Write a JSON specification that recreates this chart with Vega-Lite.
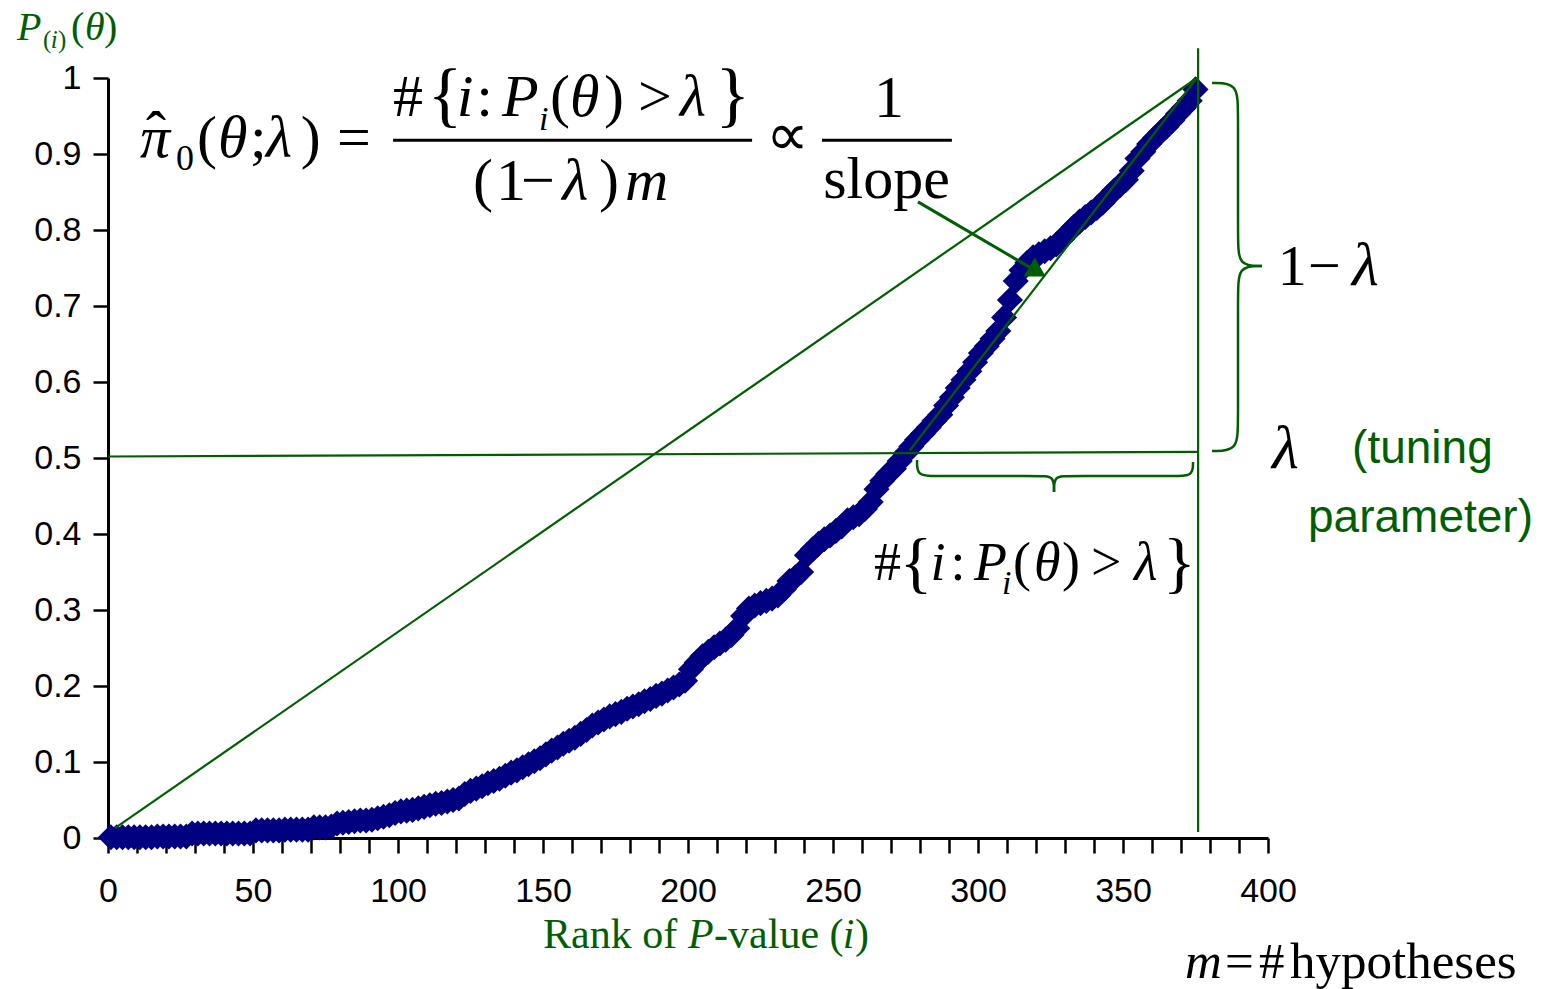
{
"$schema": "https://vega.github.io/schema/vega-lite/v6.json",
"width": 1160, "height": 760,
"autosize": {"type": "none"},
"padding": {"left": 108, "top": 78, "right": 282, "bottom": 151},
"background": "white",
"config": {"view": {"stroke": null}},
"datasets": {
"pv": [
{"x":1,"y":0.001},{"x":3,"y":0.001},{"x":5,"y":0.001},{"x":7,"y":0.001},{"x":9,"y":0.001},{"x":11,"y":0.001},{"x":13,"y":0.001},{"x":15,"y":0.001},{"x":17,"y":0.002},{"x":19,"y":0.002},
{"x":21,"y":0.002},{"x":23,"y":0.002},{"x":25,"y":0.002},{"x":27,"y":0.002},{"x":29,"y":0.006},{"x":31,"y":0.006},{"x":33,"y":0.006},{"x":35,"y":0.006},{"x":37,"y":0.006},{"x":39,"y":0.006},
{"x":41,"y":0.006},{"x":43,"y":0.006},{"x":45,"y":0.006},{"x":47,"y":0.006},{"x":49,"y":0.006},{"x":51,"y":0.010},{"x":53,"y":0.010},{"x":55,"y":0.010},{"x":57,"y":0.010},{"x":59,"y":0.010},
{"x":61,"y":0.011},{"x":63,"y":0.011},{"x":65,"y":0.011},{"x":67,"y":0.011},{"x":69,"y":0.011},{"x":71,"y":0.014},{"x":73,"y":0.014},{"x":75,"y":0.014},{"x":77,"y":0.015},{"x":79,"y":0.019},
{"x":81,"y":0.020},{"x":83,"y":0.021},{"x":85,"y":0.022},{"x":87,"y":0.023},{"x":89,"y":0.023},{"x":91,"y":0.024},{"x":93,"y":0.026},{"x":95,"y":0.028},{"x":97,"y":0.030},{"x":99,"y":0.033},
{"x":101,"y":0.035},{"x":103,"y":0.036},{"x":105,"y":0.037},{"x":107,"y":0.039},{"x":109,"y":0.041},{"x":111,"y":0.043},{"x":113,"y":0.045},{"x":115,"y":0.046},{"x":117,"y":0.048},{"x":119,"y":0.050},
{"x":121,"y":0.052},{"x":123,"y":0.058},{"x":125,"y":0.062},{"x":127,"y":0.065},{"x":129,"y":0.068},{"x":131,"y":0.072},{"x":133,"y":0.075},{"x":135,"y":0.078},{"x":137,"y":0.082},{"x":139,"y":0.086},
{"x":141,"y":0.089},{"x":143,"y":0.093},{"x":145,"y":0.097},{"x":147,"y":0.101},{"x":149,"y":0.105},{"x":151,"y":0.110},{"x":153,"y":0.115},{"x":155,"y":0.119},{"x":157,"y":0.124},{"x":159,"y":0.128},
{"x":161,"y":0.132},{"x":163,"y":0.137},{"x":165,"y":0.142},{"x":167,"y":0.148},{"x":169,"y":0.152},{"x":171,"y":0.156},{"x":173,"y":0.160},{"x":175,"y":0.163},{"x":177,"y":0.166},{"x":179,"y":0.170},
{"x":181,"y":0.173},{"x":183,"y":0.176},{"x":185,"y":0.180},{"x":187,"y":0.183},{"x":189,"y":0.187},{"x":191,"y":0.190},{"x":193,"y":0.194},{"x":195,"y":0.198},{"x":197,"y":0.202},{"x":199,"y":0.207},
{"x":201,"y":0.222},{"x":203,"y":0.231},{"x":205,"y":0.239},{"x":207,"y":0.245},{"x":209,"y":0.251},{"x":211,"y":0.256},{"x":213,"y":0.261},{"x":215,"y":0.267},{"x":217,"y":0.276},{"x":219,"y":0.292},
{"x":221,"y":0.302},{"x":223,"y":0.306},{"x":225,"y":0.309},{"x":227,"y":0.312},{"x":229,"y":0.315},{"x":231,"y":0.319},{"x":233,"y":0.327},{"x":235,"y":0.338},{"x":237,"y":0.343},{"x":239,"y":0.350},
{"x":241,"y":0.372},{"x":243,"y":0.380},{"x":245,"y":0.387},{"x":247,"y":0.393},{"x":249,"y":0.398},{"x":251,"y":0.404},{"x":253,"y":0.410},{"x":255,"y":0.418},{"x":257,"y":0.422},{"x":259,"y":0.426},
{"x":261,"y":0.433},{"x":263,"y":0.442},{"x":265,"y":0.459},{"x":267,"y":0.470},{"x":269,"y":0.479},{"x":271,"y":0.486},{"x":273,"y":0.496},{"x":275,"y":0.506},{"x":277,"y":0.515},{"x":279,"y":0.524},
{"x":281,"y":0.532},{"x":283,"y":0.540},{"x":285,"y":0.549},{"x":287,"y":0.557},{"x":289,"y":0.569},{"x":291,"y":0.580},{"x":293,"y":0.592},{"x":295,"y":0.603},{"x":297,"y":0.614},{"x":299,"y":0.626},
{"x":301,"y":0.638},{"x":303,"y":0.647},{"x":305,"y":0.657},{"x":307,"y":0.667},{"x":309,"y":0.685},{"x":311,"y":0.708},{"x":313,"y":0.733},{"x":315,"y":0.747},{"x":317,"y":0.757},{"x":319,"y":0.764},
{"x":321,"y":0.768},{"x":323,"y":0.772},{"x":325,"y":0.776},{"x":327,"y":0.781},{"x":329,"y":0.788},{"x":331,"y":0.796},{"x":333,"y":0.804},{"x":335,"y":0.811},{"x":337,"y":0.817},{"x":339,"y":0.823},
{"x":341,"y":0.829},{"x":343,"y":0.836},{"x":345,"y":0.844},{"x":347,"y":0.852},{"x":349,"y":0.859},{"x":351,"y":0.866},{"x":353,"y":0.878},{"x":355,"y":0.894},{"x":357,"y":0.903},{"x":359,"y":0.913},
{"x":361,"y":0.921},{"x":363,"y":0.929},{"x":365,"y":0.936},{"x":367,"y":0.944},{"x":369,"y":0.953},{"x":371,"y":0.961},{"x":373,"y":0.970},{"x":375,"y":0.985}
],
"lines": [
{"id":"diag","o":0,"x":2.4,"y":0.013},{"id":"diag","o":1,"x":375.5,"y":1.0},
{"id":"slope","o":0,"x":276.5,"y":0.51},{"id":"slope","o":1,"x":375.5,"y":1.0},
{"id":"vert","o":0,"x":375.9,"y":0.008},{"id":"vert","o":1,"x":375.9,"y":1.039},
{"id":"lam","o":0,"x":0,"y":0.502},{"id":"lam","o":1,"x":375.9,"y":0.508}
],
"arrow": [
{"id":"a","o":0,"x":279.3,"y":0.837},{"id":"a","o":1,"x":320.5,"y":0.745}
],
"arrowhead": [{"x":320.5,"y":0.745}],
"braces": [
{"id":"r1","o":0,"x":380.69,"y":0.9934},{"id":"r1","o":1,"x":389.66,"y":0.9934},{"id":"r1","o":2,"x":389.66,"y":0.9553},{"id":"r1","o":3,"x":389.66,"y":0.7895},{"id":"r1","o":4,"x":389.66,"y":0.7526},{"id":"r1","o":5,"x":397.93,"y":0.7526},
{"id":"r2","o":0,"x":397.93,"y":0.7526},{"id":"r2","o":1,"x":389.66,"y":0.7526},{"id":"r2","o":2,"x":389.66,"y":0.7158},{"id":"r2","o":3,"x":389.66,"y":0.5474},{"id":"r2","o":4,"x":389.66,"y":0.5092},{"id":"r2","o":5,"x":380.69,"y":0.5092},
{"id":"b1","o":0,"x":278.97,"y":0.4974},{"id":"b1","o":1,"x":278.97,"y":0.4763},{"id":"b1","o":2,"x":285.17,"y":0.4763},{"id":"b1","o":3,"x":321.38,"y":0.4763},{"id":"b1","o":4,"x":326.21,"y":0.4763},{"id":"b1","o":5,"x":326.21,"y":0.4553},
{"id":"b2","o":0,"x":326.21,"y":0.4553},{"id":"b2","o":1,"x":326.21,"y":0.4763},{"id":"b2","o":2,"x":331.03,"y":0.4763},{"id":"b2","o":3,"x":367.93,"y":0.4763},{"id":"b2","o":4,"x":374.14,"y":0.4763},{"id":"b2","o":5,"x":374.14,"y":0.4947}
],
"bars": [{"x":98.3,"x2":222.1,"y":0.918},{"x":246.2,"x2":291.0,"y":0.918}],
"up60": [
{"x":13.1,"y":0.9026,"t":"ˆ"},
{"x":30.69,"y":0.896,"t":"("},{"x":48.97,"y":0.896,"t":";"},{"x":66.5,"y":0.896,"t":")"},{"x":78.97,"y":0.896,"t":"="},
{"x":98.3,"y":0.95,"t":"#"},{"x":127.0,"y":0.95,"t":":"},{"x":152.4,"y":0.95,"t":"("},{"x":171.0,"y":0.95,"t":")"},{"x":182.8,"y":0.95,"t":">"},
{"x":125.9,"y":0.8395,"t":"("},{"x":133.8,"y":0.8395,"t":"1"},{"x":142.4,"y":0.8395,"t":"−"},{"x":169.3,"y":0.8395,"t":")"},
{"x":226.9,"y":0.8987,"t":"∝"},{"x":264.1,"y":0.9487,"t":"1"},{"x":246.6,"y":0.8421,"t":"slope"}
],
"it60": [
{"x":11.03,"y":0.896,"t":"π"},{"x":37.93,"y":0.896,"t":"θ"},{"x":54.48,"y":0.896,"t":"λ"},
{"x":120.3,"y":0.95,"t":"i"},{"x":135.9,"y":0.95,"t":"P"},{"x":159.3,"y":0.95,"t":"θ"},{"x":197.2,"y":0.95,"t":"λ"},
{"x":156.6,"y":0.8395,"t":"λ"},{"x":178.3,"y":0.8395,"t":"m"}
],
"up36": [{"x":23.45,"y":0.879,"t":"0"}],
"it34": [{"x":148.6,"y":0.9316,"t":"i"},{"x":308.3,"y":0.3211,"t":"i"}],
"br72": [{"x":110.3,"y":0.9474,"t":"{"},{"x":209.5,"y":0.9474,"t":"}"}],
"up54": [
{"x":264.1,"y":0.3395,"t":"#"},{"x":290.5,"y":0.3395,"t":":"},{"x":312.1,"y":0.3395,"t":"("},{"x":329.0,"y":0.3395,"t":")"},{"x":339.0,"y":0.3395,"t":">"}
],
"it54": [
{"x":283.6,"y":0.3395,"t":"i"},{"x":298.6,"y":0.3395,"t":"P"},{"x":319.3,"y":0.3395,"t":"θ"},{"x":353.8,"y":0.3395,"t":"λ"}
],
"br68": [{"x":273.0,"y":0.3329,"t":"{"},{"x":363.8,"y":0.3329,"t":"}"}],
"up58": [{"x":403.4,"y":0.7276,"t":"1"},{"x":413.8,"y":0.7276,"t":"−"}],
"it60b": [{"x":429.0,"y":0.7276,"t":"λ"},{"x":401.4,"y":0.4868,"t":"λ"}],
"gsans": [{"x":429.0,"y":0.4934,"t":"(tuning"},{"x":413.8,"y":0.4026,"t":"parameter)"}],
"gup42": [{"x":150.0,"y":-0.1447,"t":"Rank of "},{"x":209.0,"y":-0.1447,"t":"-value ("},{"x":257.6,"y":-0.1447,"t":")"}],
"git42": [{"x":200.0,"y":-0.1447,"t":"P"},{"x":253.4,"y":-0.1447,"t":"i"}],
"up51": [{"x":385.2,"y":-0.1842,"t":"="},{"x":396.9,"y":-0.1842,"t":"#"},{"x":407.6,"y":-0.1842,"t":"hypotheses"}],
"it51": [{"x":371.4,"y":-0.1842,"t":"m"}],
"gup40": [{"x":-12.76,"y":1.05,"t":"("},{"x":-1.38,"y":1.05,"t":")"}],
"git40": [{"x":-31.4,"y":1.05,"t":"P"},{"x":-7.93,"y":1.05,"t":"θ"}],
"gup25": [{"x":-22.4,"y":1.04,"t":"("},{"x":-17.2,"y":1.04,"t":")"}],
"git25": [{"x":-19.7,"y":1.04,"t":"i"}]
},
"encoding": {
"x": {"field": "x", "type": "quantitative", "scale": {"domain": [0, 400], "nice": false, "zero": false},
 "axis": {"title": null, "values": [0,10,20,30,40,50,60,70,80,90,100,110,120,130,140,150,160,170,180,190,200,210,220,230,240,250,260,270,280,290,300,310,320,330,340,350,360,370,380,390,400],
 "labelExpr": "datum.value % 50 === 0 ? datum.label : ''", "format": "d", "grid": false,
 "domainColor": "#000000", "domainWidth": 3, "tickColor": "#000000", "tickWidth": 2.5, "tickSize": 15,
 "labelFont": "Liberation Sans", "labelFontSize": 34, "labelColor": "#000000", "labelPadding": 21, "labelOverlap": false, "labelFlush": false}},
"y": {"field": "y", "type": "quantitative", "scale": {"domain": [0, 1], "nice": false, "zero": false},
 "axis": {"title": null, "values": [0,0.1,0.2,0.3,0.4,0.5,0.6,0.7,0.8,0.9,1], "format": "~g", "grid": false,
 "domainColor": "#000000", "domainWidth": 3, "tickColor": "#000000", "tickWidth": 2.5, "tickSize": 15,
 "labelFont": "Liberation Sans", "labelFontSize": 34, "labelColor": "#000000", "labelPadding": 12, "labelOverlap": false, "labelFlush": false}}
},
"layer": [
{"data": {"name": "pv"}, "mark": {"type": "point", "shape": "diamond", "filled": true, "color": "#000080", "opacity": 1, "size": 680, "clip": false}},
{"data": {"name": "lines"}, "mark": {"type": "line", "color": "#005E00", "strokeWidth": 2.2, "clip": false}, "encoding": {"detail": {"field": "id"}, "order": {"field": "o"}}},
{"data": {"name": "arrow"}, "mark": {"type": "line", "color": "#005E00", "strokeWidth": 3, "clip": false}, "encoding": {"detail": {"field": "id"}, "order": {"field": "o"}}},
{"data": {"name": "arrowhead"}, "mark": {"type": "point", "shape": "triangle-right", "angle": 30.5, "filled": true, "color": "#005E00", "opacity": 1, "size": 480, "clip": false}},
{"data": {"name": "braces"}, "mark": {"type": "line", "color": "#005E00", "strokeWidth": 2.5, "interpolate": "basis", "clip": false}, "encoding": {"detail": {"field": "id"}, "order": {"field": "o"}}},
{"data": {"name": "bars"}, "mark": {"type": "rule", "color": "#000000", "strokeWidth": 3, "clip": false}, "encoding": {"x2": {"field": "x2"}}},
{"data": {"name": "up60"}, "mark": {"type": "text", "font": "Liberation Serif", "fontSize": 60, "align": "left", "baseline": "alphabetic", "color": "#000000", "clip": false}, "encoding": {"text": {"field": "t"}}},
{"data": {"name": "it60"}, "mark": {"type": "text", "font": "Liberation Serif", "fontSize": 60, "fontStyle": "italic", "align": "left", "baseline": "alphabetic", "color": "#000000", "clip": false}, "encoding": {"text": {"field": "t"}}},
{"data": {"name": "up36"}, "mark": {"type": "text", "font": "Liberation Serif", "fontSize": 36, "align": "left", "baseline": "alphabetic", "color": "#000000", "clip": false}, "encoding": {"text": {"field": "t"}}},
{"data": {"name": "it34"}, "mark": {"type": "text", "font": "Liberation Serif", "fontSize": 34, "fontStyle": "italic", "align": "left", "baseline": "alphabetic", "color": "#000000", "clip": false}, "encoding": {"text": {"field": "t"}}},
{"data": {"name": "br72"}, "mark": {"type": "text", "font": "Liberation Serif", "fontSize": 72, "align": "left", "baseline": "alphabetic", "color": "#000000", "clip": false}, "encoding": {"text": {"field": "t"}}},
{"data": {"name": "up54"}, "mark": {"type": "text", "font": "Liberation Serif", "fontSize": 54, "align": "left", "baseline": "alphabetic", "color": "#000000", "clip": false}, "encoding": {"text": {"field": "t"}}},
{"data": {"name": "it54"}, "mark": {"type": "text", "font": "Liberation Serif", "fontSize": 54, "fontStyle": "italic", "align": "left", "baseline": "alphabetic", "color": "#000000", "clip": false}, "encoding": {"text": {"field": "t"}}},
{"data": {"name": "br68"}, "mark": {"type": "text", "font": "Liberation Serif", "fontSize": 68, "align": "left", "baseline": "alphabetic", "color": "#000000", "clip": false}, "encoding": {"text": {"field": "t"}}},
{"data": {"name": "up58"}, "mark": {"type": "text", "font": "Liberation Serif", "fontSize": 58, "align": "left", "baseline": "alphabetic", "color": "#000000", "clip": false}, "encoding": {"text": {"field": "t"}}},
{"data": {"name": "it60b"}, "mark": {"type": "text", "font": "Liberation Serif", "fontSize": 62, "fontStyle": "italic", "align": "left", "baseline": "alphabetic", "color": "#000000", "clip": false}, "encoding": {"text": {"field": "t"}}},
{"data": {"name": "gsans"}, "mark": {"type": "text", "font": "Liberation Sans", "fontSize": 46, "align": "left", "baseline": "alphabetic", "color": "#005E00", "clip": false}, "encoding": {"text": {"field": "t"}}},
{"data": {"name": "gup42"}, "mark": {"type": "text", "font": "Liberation Serif", "fontSize": 42, "align": "left", "baseline": "alphabetic", "color": "#005E00", "clip": false}, "encoding": {"text": {"field": "t"}}},
{"data": {"name": "git42"}, "mark": {"type": "text", "font": "Liberation Serif", "fontSize": 42, "fontStyle": "italic", "align": "left", "baseline": "alphabetic", "color": "#005E00", "clip": false}, "encoding": {"text": {"field": "t"}}},
{"data": {"name": "up51"}, "mark": {"type": "text", "font": "Liberation Serif", "fontSize": 51, "align": "left", "baseline": "alphabetic", "color": "#000000", "clip": false}, "encoding": {"text": {"field": "t"}}},
{"data": {"name": "it51"}, "mark": {"type": "text", "font": "Liberation Serif", "fontSize": 51, "fontStyle": "italic", "align": "left", "baseline": "alphabetic", "color": "#000000", "clip": false}, "encoding": {"text": {"field": "t"}}},
{"data": {"name": "gup40"}, "mark": {"type": "text", "font": "Liberation Serif", "fontSize": 40, "align": "left", "baseline": "alphabetic", "color": "#005E00", "clip": false}, "encoding": {"text": {"field": "t"}}},
{"data": {"name": "git40"}, "mark": {"type": "text", "font": "Liberation Serif", "fontSize": 40, "fontStyle": "italic", "align": "left", "baseline": "alphabetic", "color": "#005E00", "clip": false}, "encoding": {"text": {"field": "t"}}},
{"data": {"name": "gup25"}, "mark": {"type": "text", "font": "Liberation Serif", "fontSize": 25, "align": "left", "baseline": "alphabetic", "color": "#005E00", "clip": false}, "encoding": {"text": {"field": "t"}}},
{"data": {"name": "git25"}, "mark": {"type": "text", "font": "Liberation Serif", "fontSize": 25, "fontStyle": "italic", "align": "left", "baseline": "alphabetic", "color": "#005E00", "clip": false}, "encoding": {"text": {"field": "t"}}}
]
}
